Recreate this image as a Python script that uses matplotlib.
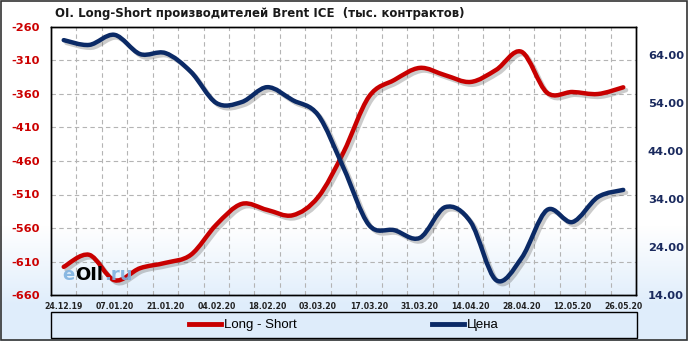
import numpy as np
import matplotlib
matplotlib.use("Agg")
import matplotlib.pyplot as plt
import matplotlib.patheffects as pe
from matplotlib.path import Path
from matplotlib.patches import PathPatch, Rectangle
from matplotlib.lines import Line2D

# данные (недельные)
dates = ["24.12.19", "31.12.19", "07.01.20", "14.01.20", "21.01.20", "28.01.20",
         "04.02.20", "11.02.20", "18.02.20", "25.02.20", "03.03.20", "10.03.20",
         "17.03.20", "24.03.20", "31.03.20", "07.04.20", "14.04.20", "21.04.20",
         "28.04.20", "05.05.20", "12.05.20", "19.05.20", "26.05.20"]
long_short = [-618, -600, -638, -620, -612, -600, -555, -524, -533, -541, -514, -447,
              -364, -339, -321, -332, -342, -324, -297, -358, -357, -360, -350]
price = [67.1, 66.1, 68.2, 64.2, 64.4, 60.5, 54.0, 54.2, 57.3, 54.6, 51.5, 40.5,
         28.6, 27.5, 25.9, 32.3, 29.2, 17.1, 21.7, 31.7, 29.2, 34.4, 35.9]

left_ticks = list(range(-660, -259, 50))
right_ticks = [14, 24, 34, 44, 54, 64]

RED = "#C80000"
NAVY = "#0B2A66"


def smooth_path(xs, ys):
    # кривая Безье через точки (как сглаженная линия в исходнике)
    n = len(xs)
    verts = [(xs[0], ys[0])]
    codes = [Path.MOVETO]
    for i in range(n - 1):
        x0, y0 = xs[max(i - 1, 0)], ys[max(i - 1, 0)]
        x1, y1 = xs[i], ys[i]
        x2, y2 = xs[i + 1], ys[i + 1]
        x3, y3 = xs[min(i + 2, n - 1)], ys[min(i + 2, n - 1)]
        verts += [(x1 + (x2 - x0) / 6, y1 + (y2 - y0) / 6),
                  (x2 - (x3 - x1) / 6, y2 - (y3 - y1) / 6),
                  (x2, y2)]
        codes += [Path.CURVE4] * 3
    return Path(verts, codes)


fig = plt.figure(figsize=(6.88, 3.41), dpi=100)

# фон с градиентом
bg = fig.add_axes([0, 0, 1, 1], zorder=-10)
rows = np.arange(341)
t = np.clip((rows - 225) / 80.0, 0, 1)
top = np.array([1.0, 1.0, 1.0])
bot = np.array([0.875, 0.930, 0.985])
grad = top[None, :] * (1 - t[:, None]) + bot[None, :] * t[:, None]
bg.imshow(grad[:, None, :], aspect="auto", extent=[0, 1, 0, 1])
bg.set_axis_off()

ax1 = fig.add_axes([51 / 688, 1 - 295 / 341, 585 / 688, 268 / 341])
ax1.set_facecolor("none")
ax2 = ax1.twinx()

x = np.arange(len(dates))
ax1.set_xlim(-0.5, len(dates) - 0.5)
ax1.set_ylim(-660, -260)
ax2.set_ylim(14, 14 + 268 / 4.8)

ax1.set_yticks(left_ticks)
ax1.set_yticklabels([str(v) for v in left_ticks])
ax2.set_yticks(right_ticks)
ax2.set_yticklabels([f"{v:.2f}" for v in right_ticks])
ax1.set_xticks(x[::2])
ax1.set_xticklabels(dates[::2])
ax1.set_xticks(x[:-1] + 0.5, minor=True)

ax1.tick_params(axis="y", length=0, pad=8, labelcolor="#CC0000", labelsize=8.2)
ax2.tick_params(axis="y", length=0, pad=8.5, labelcolor="#1A2A5E", labelsize=8.2)
ax1.tick_params(axis="x", which="both", length=0, pad=5, labelsize=5.6, labelcolor="#222222")
for lab in ax1.get_yticklabels() + ax2.get_yticklabels() + ax1.get_xticklabels():
    lab.set_fontweight("bold")

ax1.grid(True, axis="y", which="major", linestyle=(0, (4, 3)), color="#b4b4b4", linewidth=0.8)
ax1.grid(True, axis="x", which="minor", linestyle=(0, (4, 3)), color="#b4b4b4", linewidth=0.8)
ax1.set_axisbelow(True)
for ax in (ax1, ax2):
    for s in ax.spines.values():
        s.set_color("black")
        s.set_linewidth(1)

shadow = [pe.SimpleLineShadow(offset=(2, -2), shadow_color="#555555", alpha=0.3), pe.Normal()]
red_patch = PathPatch(smooth_path(x, long_short), fill=False, edgecolor=RED, lw=3.2,
                      capstyle="round", joinstyle="round", path_effects=shadow, zorder=3)
ax1.add_patch(red_patch)
blue_patch = PathPatch(smooth_path(x, price), fill=False, edgecolor=NAVY, lw=3.2,
                       capstyle="round", joinstyle="round", path_effects=shadow, zorder=3)
ax2.add_patch(blue_patch)

# водяной знак
fig.text(62 / 688, 1 - 280 / 341, "e", fontsize=13, fontweight="bold", color="#7FB2E0", alpha=0.9)
fig.text(75 / 688, 1 - 280 / 341, "OIl", fontsize=13, fontweight="bold", color="black")
fig.text(104 / 688, 1 - 280 / 341, ".ru", fontsize=13, fontweight="bold", color="#7FB2E0", alpha=0.9)

# заголовок
fig.text(55 / 688, 1 - 17 / 341, "OI. Long-Short производителей Brent ICE  (тыс. контрактов)",
         fontsize=8.5, fontweight="bold", color="#1a1a1a")

# легенда
fig.patches.append(Rectangle((51 / 688, 1 - 338 / 341), 586 / 688, 26 / 341,
                             transform=fig.transFigure, facecolor=(0.87, 0.925, 0.98),
                             edgecolor="black", linewidth=1))
handles = [Line2D([], [], color=RED, lw=3.5), Line2D([], [], color=NAVY, lw=3.5)]
fig.legend(handles, ["Long - Short", "Цена"], loc="center", ncol=2,
           bbox_to_anchor=(344 / 688, 1 - 325 / 341), frameon=False,
           prop={"family": "Liberation Sans", "size": 9.5}, handlelength=2.4,
           handletextpad=0.2, columnspacing=10.3)

# рамка вокруг картинки
fig.patches.append(Rectangle((0.001, 0.002), 0.997, 0.996, transform=fig.transFigure,
                             fill=False, edgecolor="#333333", linewidth=1.2))

fig.savefig("out.png", dpi=100)
